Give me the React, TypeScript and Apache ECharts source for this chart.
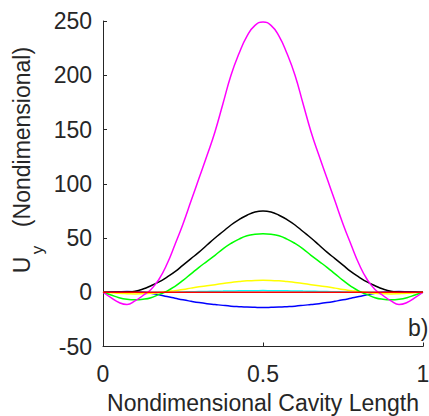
import React, { useEffect, useRef } from "react";
import * as echarts from "echarts";

const xs = [
  0, 0.025, 0.05, 0.075, 0.1, 0.125, 0.15, 0.175, 0.2, 0.225, 0.25, 0.275, 0.3, 0.325, 0.35, 0.375, 0.4, 0.425, 0.45, 0.475, 0.5,
  0.525, 0.55, 0.575, 0.6, 0.625, 0.65, 0.675, 0.7, 0.725, 0.75, 0.775, 0.8, 0.825, 0.85, 0.875, 0.9, 0.925, 0.95, 0.975, 1,
];

const magenta = [
  0, -5, -9.5, -11.3, -8, -3, 2.5, 12, 26, 44, 63, 84, 105, 126, 148, 174, 200, 220, 236, 246, 249,
  246, 236, 220, 200, 174, 148, 126, 105, 84, 63, 44, 26, 12, 2.5, -3, -8, -11.3, -9.5, -5, 0,
];
const black = [
  0, 0, 0, 0.3, 1, 3, 6, 9.5, 14, 19, 25, 31, 37, 43.5, 50, 56, 62, 67, 71, 74, 75,
  74, 71, 67, 62, 56, 50, 43.5, 37, 31, 25, 19, 14, 9.5, 6, 3, 1, 0.3, 0, 0, 0,
];
const green = [
  0, -2.5, -5, -6.5, -7, -6.5, -5, -2, 1, 5.5, 11, 17, 23, 28.5, 34, 40, 45, 49, 52, 53.5, 54,
  53.5, 52, 49, 45, 40, 34, 28.5, 23, 17, 11, 5.5, 1, -2, -5, -6.5, -7, -6.5, -5, -2.5, 0,
];
const yellow = [
  0, -0.5, -1, -1.3, -1.5, -1.3, -1, -0.3, 0.5, 1.5, 2.5, 3.8, 5, 6, 7, 8, 9, 9.8, 10.5, 10.9, 11,
  10.9, 10.5, 9.8, 9, 8, 7, 6, 5, 3.8, 2.5, 1.5, 0.5, -0.3, -1, -1.3, -1.5, -1.3, -1, -0.5, 0,
];
const blue = [
  0, 0.3, 0.5, 0.6, 0.5, 0, -1, -2.3, -4, -5.5, -7, -8.3, -9.5, -10.5, -11.3, -12.1, -12.8, -13.3, -13.7, -13.9, -14,
  -13.9, -13.7, -13.3, -12.8, -12.1, -11.3, -10.5, -9.5, -8.3, -7, -5.5, -4, -2.3, -1, 0, 0.5, 0.6, 0.5, 0.3, 0,
];
const cyan = [
  0, 0, 0, 0, 0, 0, 0, 0, 0, 0.1, 0.3, 0.45, 0.6, 0.75, 0.9, 1.05, 1.2, 1.3, 1.4, 1.45, 1.5,
  1.45, 1.4, 1.3, 1.2, 1.05, 0.9, 0.75, 0.6, 0.45, 0.3, 0.1, 0, 0, 0, 0, 0, 0, 0, 0, 0,
];
const red = xs.map(() => 0);

const yTicks = { min: -50, max: 250, interval: 50 };
const xTickLabels = ["0", "0.5", "1"];
const xName = "Nondimensional Cavity Length";
const yNameMain = "(Nondimensional)";
const panelLabel = "b)";

const FONT = "'Liberation Sans', Arial, sans-serif";
const TXT = "#262626";

function pairs(ys: number[]) {
  return xs.map((x, i) => [x, ys[i]]);
}

export default function App() {
  const ref = useRef<HTMLDivElement>(null);
  useEffect(() => {
    if (!ref.current) return;
    const chart = echarts.init(ref.current, undefined, { renderer: "svg" });
    const mk = (name: string, ys: number[], color: string) => ({
      name,
      type: "line",
      data: pairs(ys),
      smooth: true,
      showSymbol: false,
      symbol: "none",
      lineStyle: { color, width: 1.5 },
      itemStyle: { color },
    });
    chart.setOption({
      animation: false,
      backgroundColor: "#ffffff",
      grid: { left: 103, right: 6, top: 21, bottom: 69.5, containLabel: false, outerBoundsMode: "none" },
      xAxis: {
        type: "value",
        min: 0,
        max: 1,
        interval: 0.5,
        name: xName,
        nameLocation: "middle",
        nameGap: 45,
        nameTextStyle: { fontFamily: FONT, fontSize: 23, color: TXT },
        axisLine: { show: true, onZero: false, lineStyle: { color: TXT, width: 1 } },
        axisTick: { show: true, inside: true, length: 4, lineStyle: { color: TXT } },
        axisLabel: {
          fontFamily: FONT,
          fontSize: 23,
          color: TXT,
          margin: 16,
          formatter: (v: number) => {
            const idx = Math.round(v / 0.5);
            return xTickLabels[idx] ?? String(v);
          },
        },
        splitLine: { show: false },
      },
      yAxis: {
        type: "value",
        min: yTicks.min,
        max: yTicks.max,
        interval: yTicks.interval,
        axisLine: { show: true, onZero: false, lineStyle: { color: TXT, width: 1 } },
        axisTick: { show: true, inside: true, length: 4, lineStyle: { color: TXT } },
        axisLabel: { fontFamily: FONT, fontSize: 23, color: TXT, margin: 11 },
        splitLine: { show: false },
      },
      graphic: [
        {
          type: "text",
          x: 22,
          y: 265,
          rotation: Math.PI / 2,
          style: { text: "U", font: `23px ${FONT}`, fill: TXT, align: "center", verticalAlign: "middle" },
        },
        {
          type: "text",
          x: 37,
          y: 250,
          rotation: Math.PI / 2,
          style: { text: "y", font: `17px ${FONT}`, fill: TXT, align: "center", verticalAlign: "middle" },
        },
        {
          type: "text",
          x: 22,
          y: 137,
          rotation: Math.PI / 2,
          style: { text: yNameMain, font: `23px ${FONT}`, fill: TXT, align: "center", verticalAlign: "middle" },
        },
        {
          type: "text",
          x: 408,
          y: 328,
          style: { text: panelLabel, font: `23px ${FONT}`, fill: TXT, align: "left", verticalAlign: "middle" },
        },
      ],
      series: [
        mk("cyan", cyan, "#00ffff"),
        mk("blue", blue, "#0000ff"),
        mk("yellow", yellow, "#ffff00"),
        mk("green", green, "#00ff00"),
        mk("black", black, "#000000"),
        mk("magenta", magenta, "#ff00ff"),
        mk("red", red, "#ff0000"),
      ],
    });
    return () => chart.dispose();
  }, []);
  return (
    <div
      ref={ref}
      style={{ position: "fixed", left: 0, top: 0, width: 429, height: 416, background: "#fff" }}
    />
  );
}
